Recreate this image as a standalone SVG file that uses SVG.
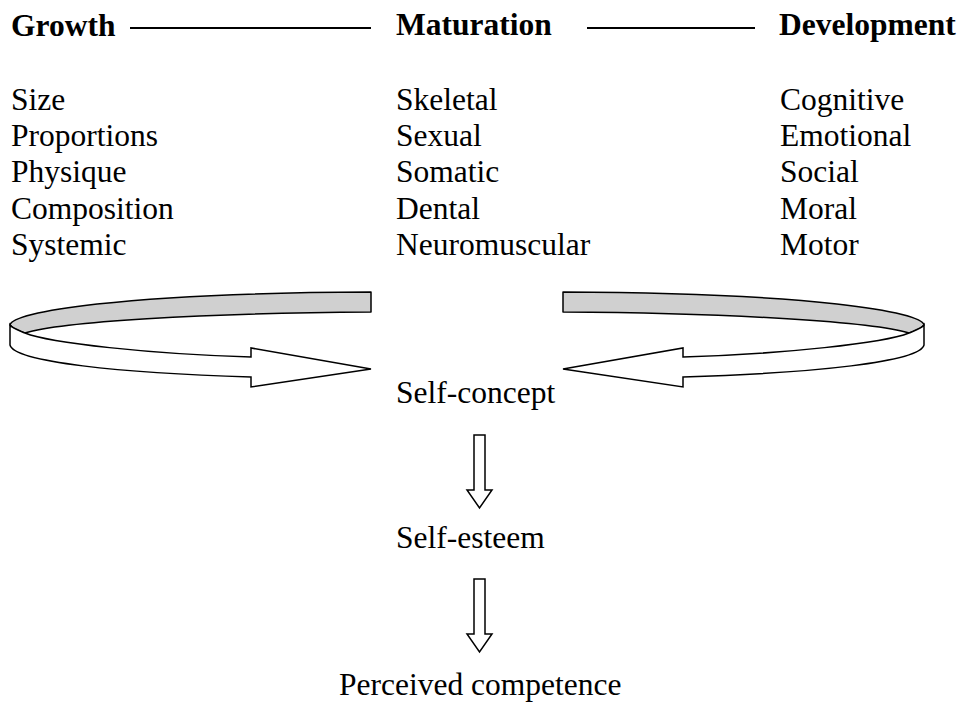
<svg xmlns="http://www.w3.org/2000/svg" width="962" height="704" viewBox="0 0 962 704">
<style>
text{font-family:"Liberation Serif","Times New Roman",serif;font-size:31.5px;fill:#000}
.h{font-weight:bold}
.rule{stroke:#000;stroke-width:2}
.band{fill:#d0d0d0;stroke:#000;stroke-width:1.5;stroke-linejoin:round}
.front{fill:#fff;stroke:#000;stroke-width:1.5;stroke-linejoin:miter}
.down{fill:#fff;stroke:#000;stroke-width:1.5}
</style>
<rect width="962" height="704" fill="#fff"/>
<g id="header">
<text class="h" x="11" y="36">Growth</text>
<text class="h" x="396" y="35">Maturation</text>
<text class="h" x="779" y="35">Development</text>
<line class="rule" x1="130" y1="28" x2="371" y2="28"/>
<line class="rule" x1="587" y1="28" x2="755" y2="28"/>
</g>
<g id="growth">
<text x="11" y="109.5">Size</text>
<text x="11" y="146">Proportions</text>
<text x="11" y="182">Physique</text>
<text x="11" y="218.5">Composition</text>
<text x="11" y="255">Systemic</text>
</g>
<g id="maturation">
<text x="396" y="109.5">Skeletal</text>
<text x="396" y="146">Sexual</text>
<text x="396" y="182">Somatic</text>
<text x="396" y="218.5">Dental</text>
<text x="396" y="255">Neuromuscular</text>
</g>
<g id="development">
<text x="780" y="109.5">Cognitive</text>
<text x="780" y="146">Emotional</text>
<text x="780" y="182">Social</text>
<text x="780" y="218.5">Moral</text>
<text x="780" y="255">Motor</text>
</g>
<g id="self-concept"><text x="396" y="403">Self-concept</text></g>
<g id="self-esteem"><text x="396" y="548">Self-esteem</text></g>
<g id="perceived-competence"><text x="339" y="695">Perceived competence</text></g>
<g id="connectors">
<path class="band" d="M371,292 L371,312 C200,313 60,322 25,333 C18,331 12,328 10,325 C12,312 120,293 371,292 Z"/>
<path class="front" d="M10,325 L10,345 C14,362 120,373 251,377 L251,387 L371,369 L251,348 L251,357 C150,354 50,343 25,333 C18,330 12,328 10,325 Z"/>
<path class="band" d="M563,292 L563,312 C734,313 874,322 909,333 C916,331 922,328 924,325 C922,312 814,293 563,292 Z"/>
<path class="front" d="M924,325 L924,345 C920,362 814,373 683,377 L683,387 L563,369 L683,348 L683,357 C784,354 884,343 909,333 C916,330 922,328 924,325 Z"/>
<path class="down" d="M474,435 L485,435 L485,490 L492,490 L479.5,508 L467,490 L474,490 Z"/>
<path class="down" d="M474,579 L485,579 L485,634 L492,634 L479.5,652 L467,634 L474,634 Z"/>
</g>
</svg>
